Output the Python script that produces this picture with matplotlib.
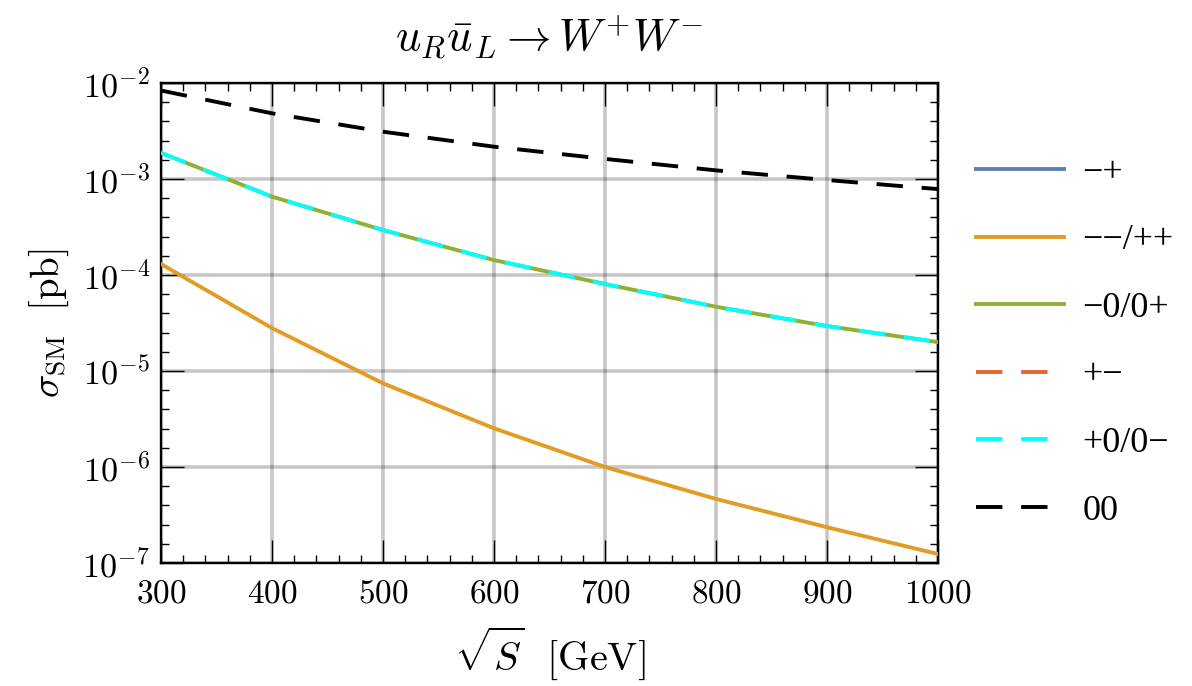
import numpy as np
import matplotlib
matplotlib.use("Agg")
import matplotlib.pyplot as plt
from matplotlib.ticker import FixedLocator, FixedFormatter, NullFormatter

plt.rcParams["mathtext.fontset"] = "cm"
plt.rcParams["lines.scale_dashes"] = False

# centre-of-mass energy [GeV]
sqrt_s = [300, 400, 500, 600, 700, 800, 900, 1000]

# helicity-resolved cross sections [pb]
sigma_mp = [0, 0, 0, 0, 0, 0, 0, 0]            # -+ (vanishes for u_R)
sigma_mm_pp = [1.30e-4, 2.8e-5, 7.44e-6, 2.53e-6, 1.0e-6, 4.65e-7, 2.36e-7, 1.24e-7]
sigma_m0_0p = [1.87e-3, 6.55e-4, 2.94e-4, 1.43e-4, 8.05e-5, 4.67e-5, 2.94e-5, 2.0e-5]
sigma_pm = [0, 0, 0, 0, 0, 0, 0, 0]            # +- (vanishes for u_R)
sigma_p0_0m = sigma_m0_0p
sigma_00 = [8.35e-3, 4.83e-3, 3.11e-3, 2.17e-3, 1.62e-3, 1.23e-3, 9.76e-4, 7.85e-4]

labels = ["\u2212+", "\u2212\u2212/++", "\u22120/0+", "+\u2212", "+0/0\u2212", "00"]

x_ticks = [300, 400, 500, 600, 700, 800, 900, 1000]
y_decades = [-7, -6, -5, -4, -3, -2]

fig = plt.figure(figsize=(11.92, 6.86), dpi=100)
ax = fig.add_axes([0.1351, 0.1793, 0.6518, 0.6997])
ax.set_yscale("log")

lw = 2.8
dash = (19.0, 13.5)
ax.plot(sqrt_s, sigma_mp, color="#5E81B5", lw=lw, label=labels[0], zorder=3)
ax.plot(sqrt_s, sigma_mm_pp, color="#E19C24", lw=lw, label=labels[1], zorder=3)
ax.plot(sqrt_s, sigma_m0_0p, color="#8FB032", lw=lw, label=labels[2], zorder=3)
ax.plot(sqrt_s, sigma_pm, color="#EB6235", lw=lw, dashes=dash, label=labels[3], zorder=3)
ax.plot(sqrt_s, sigma_p0_0m, color="#00FFFF", lw=lw, dashes=dash, label=labels[4], zorder=3)
ax.plot(sqrt_s, sigma_00, color="black", lw=lw, dashes=dash, label=labels[5], zorder=3)

ax.set_xlim(300, 1000)
ax.set_ylim(1e-7, 1e-2)

# ticks
ax.xaxis.set_major_locator(FixedLocator(x_ticks))
ax.xaxis.set_major_formatter(FixedFormatter([r"$\mathrm{%d}$" % v for v in x_ticks]))
ax.xaxis.set_minor_locator(FixedLocator(np.arange(300, 1001, 20)))
ax.xaxis.set_minor_formatter(NullFormatter())

ax.yaxis.set_major_locator(FixedLocator([10.0 ** d for d in y_decades]))
ax.yaxis.set_major_formatter(FixedFormatter([r"$10^{%d}$" % d for d in y_decades]))
minor_y = [10.0 ** (d + 0.2 * k) for d in y_decades[:-1] for k in range(1, 5)]
ax.yaxis.set_minor_locator(FixedLocator(minor_y))
ax.yaxis.set_minor_formatter(NullFormatter())

ax.tick_params(which="both", direction="in", top=True, right=True, width=1.0, colors="black")
ax.tick_params(which="major", length=16.5)
ax.tick_params(axis="x", which="major", labelsize=24, pad=10)
ax.tick_params(axis="y", which="major", labelsize=24.5, pad=8)
ax.tick_params(which="minor", length=5.8)
for sp in ax.spines.values():
    sp.set_linewidth(1.7)

ax.grid(True, which="major", color="black", alpha=0.22, lw=2.6, zorder=1)
ax.set_axisbelow(True)

ax.set_title(r"$u_R\bar{u}_L \rightarrow W^{+}W^{-}$", fontsize=32, pad=23)
ax.set_xlabel(r"$\sqrt{S}\ \ [\mathrm{GeV}]$", fontsize=29, labelpad=10)
ax.set_ylabel(r"$\sigma_{\mathrm{SM}}\ \ [\mathrm{pb}]$", fontsize=28, labelpad=8)

leg = ax.legend(loc="upper left", bbox_to_anchor=(1.03, 0.877), frameon=False,
                prop={"family": "Liberation Serif", "size": 26},
                handlelength=2.45, handletextpad=0.5, labelspacing=0.95,
                borderaxespad=0.0)

fig.savefig("out.png", dpi=100)
